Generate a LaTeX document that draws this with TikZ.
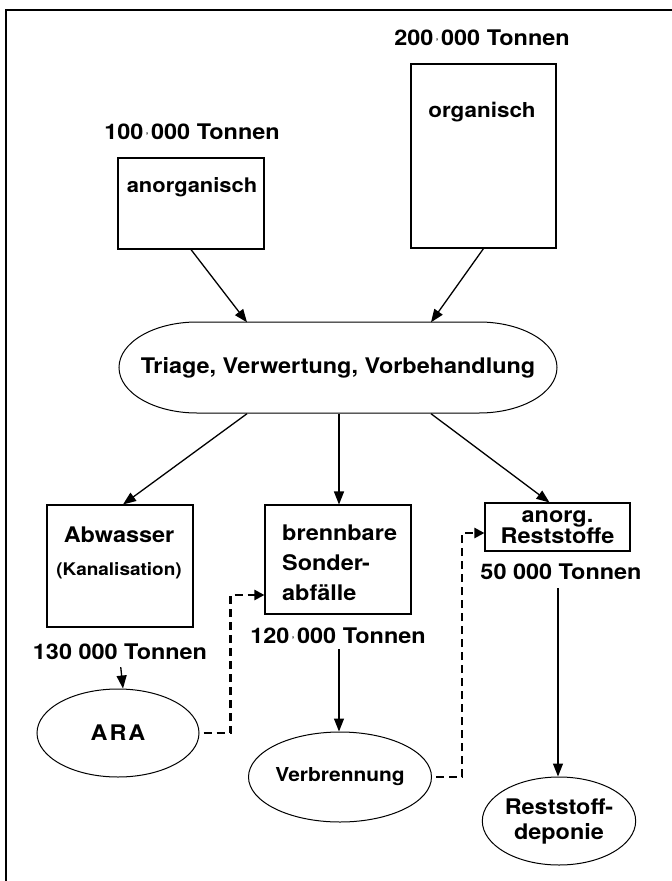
\documentclass[tikz,border=0pt]{standalone}
\usepackage{fontspec}
\setmainfont{TeX Gyre Heros}[FakeStretch=1.09]
\usetikzlibrary{arrows.meta,shapes.geometric}
\newcommand{\tsd}{\hspace{2.5pt}{\fontsize{9}{9}\selectfont'}\hspace{2.5pt}}

\begin{document}
\begin{tikzpicture}[x=1pt, y=-1pt,
    txt/.style={font=\bfseries\fontsize{21.5}{28}\selectfont, inner sep=0pt},
    box/.style={draw, line width=1.1pt, inner sep=0pt},
    oval/.style={draw, ellipse, line width=1pt, inner sep=0pt, align=center, font=\bfseries\fontsize{21.5}{25}\selectfont},
    flow/.style={line width=1.3pt, -{Triangle[length=13pt,width=10pt]}},
    back/.style={line width=2.3pt, dash pattern=on 8pt off 5pt, -{Triangle[length=10pt,width=10pt]}}]
    \useasboundingbox (0,0) rectangle (672,881);
    \draw [line width=1.2pt] (6,881) -- (6,10) -- (672,10);
    \node [txt] (t200) at (482,38) {200\tsd000 Tonnen};
    \node [box, minimum width=145pt, minimum height=184pt] (org) at (483.5,156) {};
    \node [txt, font=\bfseries\fontsize{20.6}{28}\selectfont] (orgl) at (482,112) {organisch};
    \node [txt] (t100) at (192,132) {100\tsd000 Tonnen};
    \node [box, minimum width=146pt, minimum height=91pt] (anorg) at (191,203.5) {};
    \node [txt, font=\bfseries\fontsize{20.1}{28}\selectfont] (anorgl) at (192,187) {anorganisch};
    \node [txt, minimum width=438pt, minimum height=91pt] (tri) at (338,368) {Triage, Verwertung, Vorbehandlung};
    \draw [line width=1pt] (197,322) -- (479,322) arc [start angle=90, end angle=-90, x radius=78pt, y radius=45.5pt]
        -- (197,413) arc [start angle=-90, end angle=-270, x radius=78pt, y radius=45.5pt] -- cycle;
    \node [box, minimum width=146pt, minimum height=122pt] (abw) at (120,566) {};
    \node [txt] (abwl) at (119,535) {Abwasser};
    \node [txt, font=\bfseries\fontsize{17.4}{22}\selectfont] (kan) at (119,571) {(Kanalisation)};
    \node [txt] (t130) at (120,652) {130 000 Tonnen};
    \node [oval, minimum width=162pt, minimum height=88pt] (ara) at (118,733) {A\kern2pt R\kern2pt A};
    \node [box, minimum width=146pt, minimum height=109pt] (brenn) at (338,559.5) {};
    \node [txt, align=left, anchor=west, font=\bfseries\fontsize{21.5}{30}\selectfont] (brennl) at (282,563) {brennbare\\Sonder-\\abfälle};
    \node [txt] (t120) at (338,636) {120\tsd000 Tonnen};
    \node [oval, minimum width=158pt, minimum height=90pt, font=\bfseries\fontsize{19.2}{25}\selectfont] (verb) at (340,777) {Verbrennung};
    \node [box, minimum width=145pt, minimum height=48pt, align=center, font=\bfseries\fontsize{21.5}{20}\selectfont] (rest) at (557.5,527) {anorg.\\Reststoffe};
    \node [txt] (t50) at (561,572) {50 000 Tonnen};
    \node [oval, minimum width=153pt, minimum height=88pt] (dep) at (559,821) {Reststoff-\\deponie};
    \draw [flow] (anorg.south) to ([xshift=-91pt]tri.north);
    \draw [flow] (org.south) to ([xshift=93pt]tri.north);
    \draw [flow] ([xshift=-91pt]tri.south) to ([xshift=3pt]abw.north);
    \draw [flow] ([xshift=1pt]tri.south) to ([xshift=1pt]brenn.north);
    \draw [flow] ([xshift=93pt]tri.south) to ([xshift=-8pt]rest.north);
    \draw [flow, shorten <=7pt] (t130.south) to ([xshift=5pt]ara.north);
    \draw [flow, shorten <=5pt] ([xshift=1pt]t120.south) to ([xshift=-1pt]verb.north);
    \draw [flow, shorten <=8pt] ([xshift=-3pt]t50.south) to ([xshift=-1pt]dep.north);
    \draw [back] ([xshift=4pt]ara.east) -- ++(27,0) |- ([yshift=-35.5pt]brenn.west);
    \draw [back] ([xshift=4pt]verb.east) -- ++(26,0) |- ([yshift=-6pt]rest.west);
  \end{tikzpicture}
\end{document}
